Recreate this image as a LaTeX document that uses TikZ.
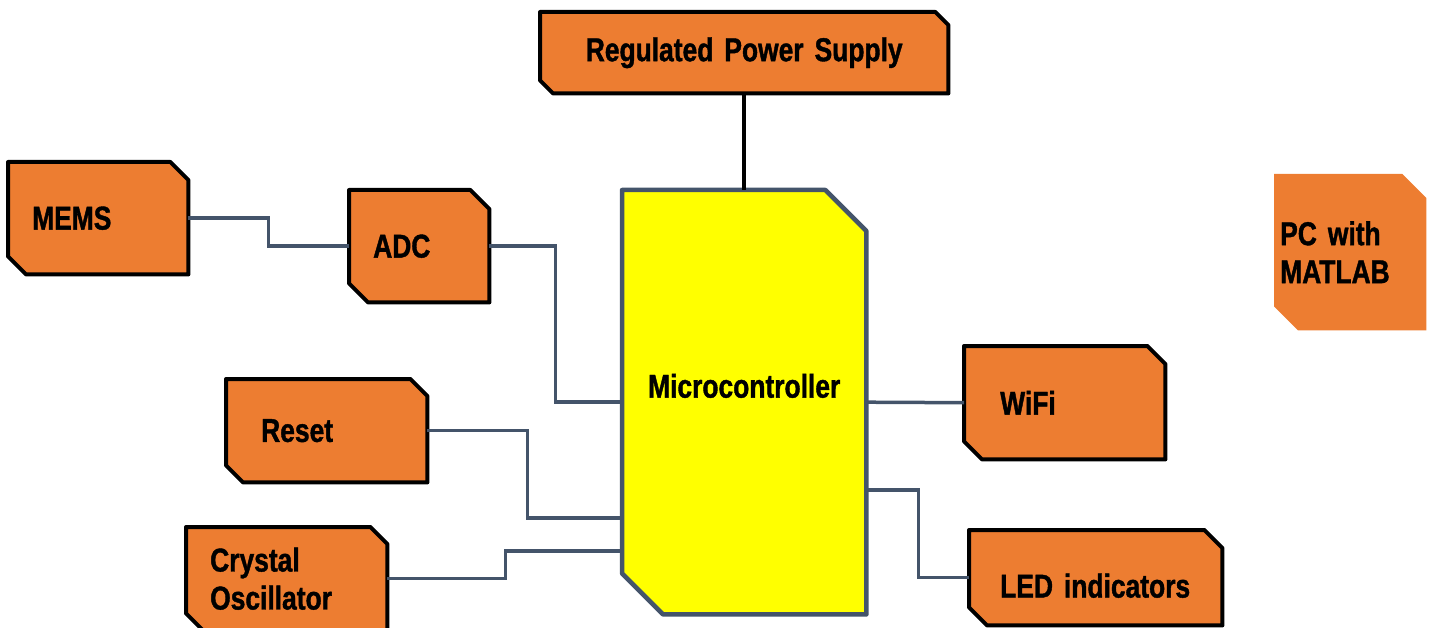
\documentclass[tikz,border=0pt]{standalone}
\usepackage{fontspec}
\setmainfont{Liberation Sans}[FakeStretch=0.8, BoldFeatures={FakeBold=1.2}]
\usetikzlibrary{positioning, backgrounds}

\definecolor{boxorange}{HTML}{ED7D31}
\definecolor{chipyellow}{HTML}{FFFF00}
\definecolor{slate}{HTML}{44546A}

\newcommand{\blockfont}{\bfseries\fontsize{33}{38}\selectfont\spaceskip=4.5pt\relax}

% outline with the north east and south west corners cut off
\newcommand{\cutcorners}[3]{%
  \path[#3] ([xshift=-#2]#1.north east) -- (#1.north west) -- ([yshift=#2]#1.south west)
    -- ([xshift=#2]#1.south west) -- (#1.south east) -- ([yshift=-#2]#1.north east) -- cycle;}

\begin{document}
\begin{tikzpicture}[x=1pt, y=-1pt,
    block/.style={rectangle, anchor=north west, inner xsep=24pt, inner ysep=0pt, align=left,
      font=\blockfont},
    part/.style={fill=boxorange, draw=black, line width=4pt, line join=round},
    wire/.style={draw=slate, line width=3.5pt},
    power/.style={draw=black, line width=4pt}]
    \useasboundingbox (0,0) rectangle (1434,628);

    \node [block, minimum width=408pt, minimum height=81pt, align=center, text width=360pt] (rps) at (540,12) {Regulated Power Supply};
    \node [block, minimum width=180pt, minimum height=112pt, text width=132pt] (mems) at (8,162) {MEMS};
    \node [block, minimum width=140pt, minimum height=112pt, text width=92pt] (adc) at (349,190) {ADC};
    \node [block, minimum width=244pt, minimum height=424pt, align=center, text width=230pt, inner xsep=7pt, text depth=33pt] (mcu) at (622,190) {Microcontroller};
    \node [block, minimum width=201pt, minimum height=103pt, text width=131pt, inner xsep=35pt] (reset) at (226,379) {Reset};
    \node [block, minimum width=201pt, minimum height=103pt, text width=153pt] (xtal) at (186,527) {Crystal\\Oscillator};
    \node [block, minimum width=201pt, minimum height=113pt, text width=129pt, inner xsep=36pt] (wifi) at (964,346) {WiFi};
    \node [block, minimum width=253pt, minimum height=95pt, text width=191pt, inner xsep=31pt, text height=40pt] (led) at (969,530) {LED indicators};
    \node [block, minimum width=152pt, minimum height=156pt, text width=140pt, inner xsep=6pt] (pc) at (1274,174) {PC with\\MATLAB};

    \begin{scope}[on background layer]
        \cutcorners{rps}{13pt}{part}
        \cutcorners{mems}{18pt}{part}
        \cutcorners{adc}{19pt}{part}
        \cutcorners{reset}{17pt}{part}
        \cutcorners{xtal}{17pt}{part}
        \cutcorners{wifi}{18pt}{part}
        \cutcorners{led}{18pt}{part}
        \cutcorners{pc}{24pt}{fill=boxorange}
        \cutcorners{mcu}{41pt}{fill=chipyellow, draw=slate, line width=4.5pt, line join=round}

        \draw [power] (rps.south) -- (mcu.north);
        \draw [wire] (mems.east) -- ++(80,0) |- (adc.west);
        \draw [wire] (adc.east) -- ++(66,0) |- (mcu.west);
        \draw [wire] (reset.east) -- ++(100,0) |- ([yshift=-116pt]mcu.west);
        \draw [wire] (xtal.east) -- ++(118,0) |- ([yshift=-149pt]mcu.west);
        \draw [wire] (mcu.east) -- (wifi.west);
        \draw [wire] ([yshift=-88pt]mcu.east) -- ++(52,0) |- (led.west);
    \end{scope}
\end{tikzpicture}
\end{document}
